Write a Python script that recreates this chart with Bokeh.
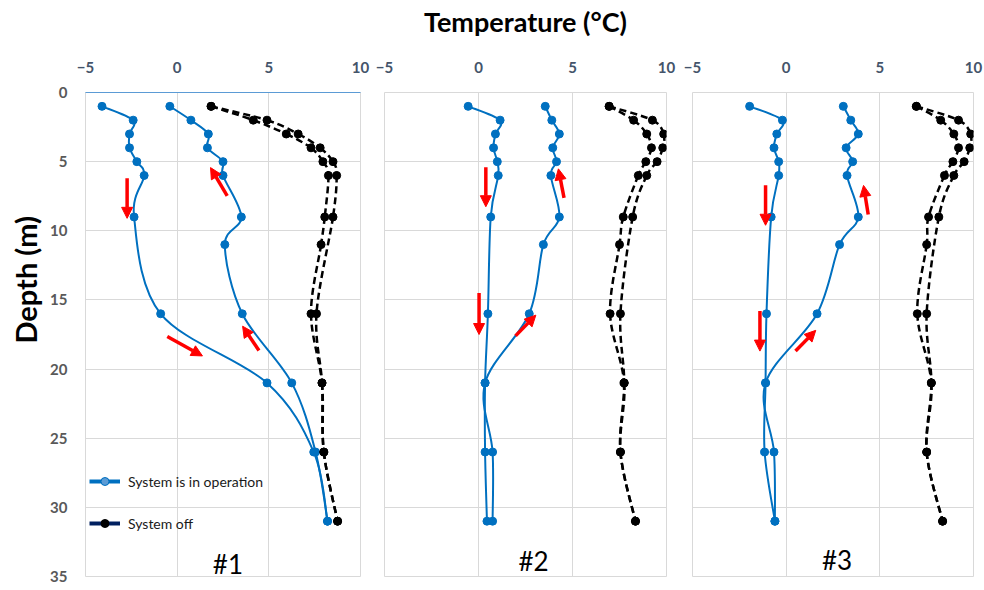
import numpy as np
from bokeh.plotting import figure
from bokeh.layouts import row
from bokeh.models import (Range1d, FixedTicker, Legend, LegendItem, Arrow,
                          NormalHead, ColumnDataSource, Title)
from bokeh.core.properties import value
from bokeh.embed import file_html
from bokeh.resources import INLINE

# ---------------- data ----------------
X_TICKS = [-5, 0, 5, 10]
Y_TICKS = [0, 5, 10, 15, 20, 25, 30, 35]

LEGEND_OP = "System is in operation"
LEGEND_OFF = "System off"
TITLE = "Temperature (°C)"
Y_TITLE = "Depth (m)"
PANEL_NAMES = ["#1", "#2", "#3"]

# panel #1
p1_op1_depth = [1, 2, 3, 4, 5, 6, 9, 16, 21, 26, 31]
p1_op1_temp = [-4.1, -2.4, -2.6, -2.6, -2.2, -1.8, -2.35, -0.9, 4.9, 7.45, 8.2]
p1_op2_depth = [1, 2, 3, 4, 5, 6, 9, 11, 16, 21, 26, 31]
p1_op2_temp = [-0.4, 0.75, 1.7, 1.65, 2.5, 2.5, 3.5, 2.6, 3.55, 6.25, 7.55, 8.2]
p1_off1_depth = [1, 2, 3, 4, 5, 6, 9, 11, 16, 21, 26, 31]
p1_off1_temp = [1.85, 4.15, 5.95, 7.3, 7.95, 8.25, 8.05, 7.85, 7.3, 7.9, 8.0, 8.75]
p1_off2_depth = [1, 2, 3, 4, 5, 6, 9, 16, 21, 26, 31]
p1_off2_temp = [1.85, 4.9, 6.6, 7.8, 8.5, 8.7, 8.5, 7.6, 7.9, 8.0, 8.75]

# panel #2
p2_op1_depth = [1, 2, 3, 4, 5, 6, 9, 16, 21, 26, 31]
p2_op1_temp = [-0.55, 1.15, 0.9, 0.8, 1.0, 1.05, 0.65, 0.5, 0.35, 0.35, 0.45]
p2_op2_depth = [1, 2, 3, 4, 5, 6, 9, 11, 16, 21, 26, 31]
p2_op2_temp = [3.55, 3.9, 4.3, 3.95, 4.15, 3.85, 4.3, 3.45, 2.7, 0.35, 0.75, 0.75]
p2_off1_depth = [1, 2, 3, 4, 5, 6, 9, 11, 16, 21, 26, 31]
p2_off1_temp = [6.95, 8.25, 8.95, 9.2, 8.9, 8.5, 7.7, 7.5, 7.0, 7.75, 7.55, 8.35]
p2_off2_depth = [1, 2, 3, 4, 5, 6, 9, 16, 21, 26, 31]
p2_off2_temp = [6.95, 9.25, 9.85, 9.8, 9.5, 8.95, 8.2, 7.55, 7.75, 7.55, 8.35]

# panel #3
p3_op1_depth = [1, 2, 3, 4, 5, 6, 9, 16, 21, 26, 31]
p3_op1_temp = [-1.95, -0.2, -0.5, -0.65, -0.4, -0.4, -0.8, -1.05, -1.1, -1.15, -0.6]
p3_op2_depth = [1, 2, 3, 4, 5, 6, 9, 11, 16, 21, 26, 31]
p3_op2_temp = [3.05, 3.45, 3.85, 3.2, 3.55, 3.25, 3.85, 2.85, 1.65, -1.1, -0.65, -0.6]
p3_off1_depth = [1, 2, 3, 4, 5, 6, 9, 11, 16, 21, 26, 31]
p3_off1_temp = [6.95, 8.25, 8.95, 9.2, 8.9, 8.45, 7.6, 7.5, 7.0, 7.75, 7.5, 8.35]
p3_off2_depth = [1, 2, 3, 4, 5, 6, 9, 16, 21, 26, 31]
p3_off2_temp = [6.95, 9.2, 9.85, 9.8, 9.5, 8.95, 8.15, 7.5, 7.75, 7.5, 8.35]

# red arrows (temperature / depth of tail and head)
p1_arrow_x0 = [-2.73, 2.73, -0.54, 4.46]
p1_arrow_y0 = [6.2, 7.47, 17.65, 18.65]
p1_arrow_x1 = [-2.73, 1.82, 1.38, 3.57]
p1_arrow_y1 = [9.1, 5.43, 19.05, 16.9]
p2_arrow_x0 = [0.39, 4.55, 0.03, 1.97]
p2_arrow_y0 = [5.4, 7.62, 14.5, 17.6]
p2_arrow_x1 = [0.39, 4.25, 0.03, 3.05]
p2_arrow_y1 = [8.26, 5.52, 17.5, 16.1]
p3_arrow_x0 = [-1.1, 4.38, -1.4, 0.5]
p3_arrow_y0 = [6.7, 8.82, 15.8, 18.7]
p3_arrow_x1 = [-1.1, 4.13, -1.4, 1.58]
p3_arrow_y1 = [9.6, 6.72, 18.7, 17.2]

# panel tag positions (temperature, depth)
tag_x = [2.77, 2.93, 2.72]
tag_y = [34.1, 33.9, 33.8]

BLUE = "#0070C0"
GRID = "#D9D9D9"
FONT = "Lato"


def bezier_source(xs, ys):
    """Control points of an Excel-like smoothed line (Catmull-Rom -> Bezier)."""
    x = np.asarray(xs, float)
    y = np.asarray(ys, float)
    n = len(x)
    xp = np.concatenate([[x[0]], x, [x[-1]]])
    yp = np.concatenate([[y[0]], y, [y[-1]]])
    d = dict(x0=[], y0=[], x1=[], y1=[], cx0=[], cy0=[], cx1=[], cy1=[])
    for i in range(n - 1):
        j = i + 1
        d["x0"].append(x[i]); d["y0"].append(y[i])
        d["x1"].append(x[i + 1]); d["y1"].append(y[i + 1])
        d["cx0"].append(x[i] + (xp[j + 1] - xp[j - 1]) / 6)
        d["cy0"].append(y[i] + (yp[j + 1] - yp[j - 1]) / 6)
        d["cx1"].append(x[i + 1] - (xp[j + 2] - xp[j]) / 6)
        d["cy1"].append(y[i + 1] - (yp[j + 2] - yp[j]) / 6)
    return ColumnDataSource(d)


def make_panel(width, mb_left, mb_right, mb_top, mb_bottom, series, arrows,
               tag, tx, ty, show_y, top_line):
    p = figure(width=width, height=590, output_backend="svg", toolbar_location=None,
               x_range=Range1d(-5, 10), y_range=Range1d(35, 0),
               x_axis_location="above",
               min_border_left=mb_left, min_border_right=mb_right,
               min_border_top=mb_top, min_border_bottom=mb_bottom)
    p.background_fill_color = "white"
    p.border_fill_color = "white"
    p.outline_line_color = GRID
    p.outline_line_width = 1

    xa = p.xaxis[0]
    xa.ticker = FixedTicker(ticks=X_TICKS)
    xa.major_tick_line_color = None
    xa.minor_tick_line_color = None
    xa.major_tick_out = 0
    xa.major_label_standoff = 20
    xa.major_label_text_font = FONT
    xa.major_label_text_font_style = "bold"
    xa.major_label_text_font_size = "15px"
    xa.major_label_text_color = "#44546A"
    xa.axis_line_color = top_line

    ya = p.yaxis[0]
    ya.ticker = FixedTicker(ticks=Y_TICKS)
    ya.major_tick_line_color = None
    ya.minor_tick_line_color = None
    ya.major_tick_out = 0
    ya.axis_line_color = None
    ya.major_label_standoff = 18
    ya.major_label_text_font = FONT
    ya.major_label_text_font_style = "bold"
    ya.major_label_text_font_size = "15px"
    ya.major_label_text_color = "#595959"
    if not show_y:
        ya.visible = False

    p.xgrid.grid_line_color = GRID
    p.ygrid.grid_line_color = GRID
    p.xgrid.ticker = FixedTicker(ticks=X_TICKS)
    p.ygrid.ticker = FixedTicker(ticks=Y_TICKS)

    for temp, depth, kind in series:
        src = bezier_source(temp, depth)
        if kind == "op":
            p.bezier(x0="x0", y0="y0", x1="x1", y1="y1", cx0="cx0", cy0="cy0",
                     cx1="cx1", cy1="cy1", source=src, line_color=BLUE, line_width=2)
            p.scatter(temp, depth, size=8, marker="circle", fill_color=BLUE,
                      line_color=BLUE)
        else:
            p.bezier(x0="x0", y0="y0", x1="x1", y1="y1", cx0="cx0", cy0="cy0",
                     cx1="cx1", cy1="cy1", source=src, line_color="black",
                     line_width=2.5, line_dash="7 4")
            p.scatter(temp, depth, size=8, marker="circle", fill_color="black",
                      line_color="black")

    ax0, ay0, ax1, ay1 = arrows
    for i in range(len(ax0)):
        p.add_layout(Arrow(x_start=ax0[i], y_start=ay0[i], x_end=ax1[i], y_end=ay1[i],
                           line_color="red", line_width=3.5,
                           end=NormalHead(size=11, fill_color="red", line_color="red")))

    p.text(x=[tx], y=[ty], text=[tag], text_font=value(FONT), text_font_size="26px",
           text_align="center", text_baseline="middle", text_color="black")
    return p


p1 = make_panel(372, 80, 12, 92, 10,
                [(p1_op1_temp, p1_op1_depth, "op"), (p1_op2_temp, p1_op2_depth, "op"),
                 (p1_off1_temp, p1_off1_depth, "off"), (p1_off2_temp, p1_off2_depth, "off")],
                (p1_arrow_x0, p1_arrow_y0, p1_arrow_x1, p1_arrow_y1),
                PANEL_NAMES[0], tag_x[0], tag_y[0], True, "#5B9BD5")
p2 = make_panel(307, 12, 13, 92, 10,
                [(p2_op1_temp, p2_op1_depth, "op"), (p2_op2_temp, p2_op2_depth, "op"),
                 (p2_off1_temp, p2_off1_depth, "off"), (p2_off2_temp, p2_off2_depth, "off")],
                (p2_arrow_x0, p2_arrow_y0, p2_arrow_x1, p2_arrow_y1),
                PANEL_NAMES[1], tag_x[1], tag_y[1], False, None)
p3 = make_panel(305, 13, 11, 88, 14,
                [(p3_op1_temp, p3_op1_depth, "op"), (p3_op2_temp, p3_op2_depth, "op"),
                 (p3_off1_temp, p3_off1_depth, "off"), (p3_off2_temp, p3_off2_depth, "off")],
                (p3_arrow_x0, p3_arrow_y0, p3_arrow_x1, p3_arrow_y1),
                PANEL_NAMES[2], tag_x[2], tag_y[2], False, None)

# legend (panel #1)
l_op = p1.line(x=[np.nan, np.nan], y=[np.nan, np.nan], line_color=BLUE, line_width=4)
s_op = p1.scatter(x=[np.nan], y=[np.nan], marker="circle", size=11,
                  fill_color="#5B9BD5", line_color=BLUE)
l_off = p1.line(x=[np.nan, np.nan], y=[np.nan, np.nan], line_color="#002060", line_width=4)
s_off = p1.scatter(x=[np.nan], y=[np.nan], marker="circle", size=11,
                   fill_color="black", line_color="black")
legend = Legend(items=[LegendItem(label=LEGEND_OP, renderers=[l_op, s_op]),
                       LegendItem(label=LEGEND_OFF, renderers=[l_off, s_off])],
                location=(4, 43), padding=0, margin=0, spacing=22,
                glyph_width=31, glyph_height=20, label_height=20, label_standoff=8,
                label_text_font=FONT, label_text_font_size="14px",
                label_text_color="#1a1a1a",
                background_fill_alpha=0, border_line_color=None)
p1.add_layout(legend)

# main title as the top-axis label of the middle panel
xa2 = p2.xaxis[0]
xa2.axis_label = TITLE
xa2.axis_label_standoff = 21
xa2.axis_label_text_font = FONT
xa2.axis_label_text_font_size = "27px"
xa2.axis_label_text_font_style = "bold"
xa2.axis_label_text_color = "black"

p1.add_layout(Title(text=Y_TITLE, align="left", offset=233, text_font=FONT,
                    text_font_size="29px", text_font_style="bold", text_color="black"),
              "left")

layout = row(p1, p2, p3, spacing=0)
open("out.html", "w").write(file_html(layout, INLINE))
